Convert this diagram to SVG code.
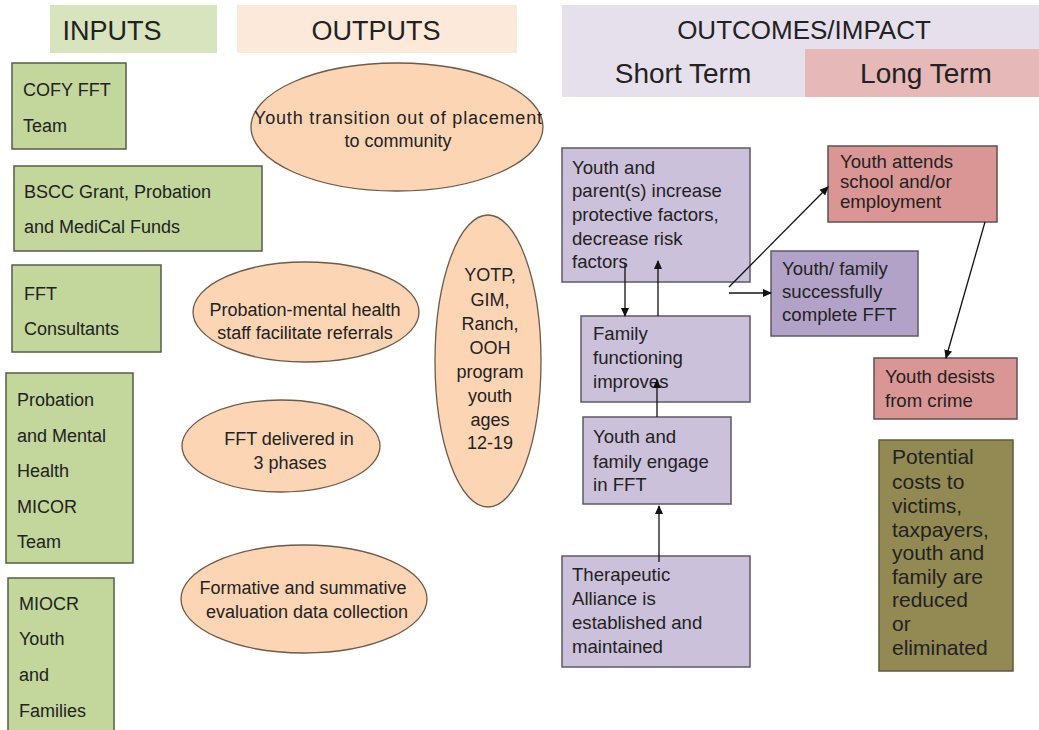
<svg xmlns="http://www.w3.org/2000/svg" width="1039" height="730" viewBox="0 0 1039 730">
<style>
text{font-family:"Liberation Sans",Arial,sans-serif;fill:#222;}
.hd{font-size:27px;}
.sub{font-size:28px;}
.t{font-size:18px;}
.b{font-size:18.6px;}
.c{text-anchor:middle;}
.in{fill:#c3d69b;stroke:#555d48;stroke-width:1.5;}
.el{fill:#fcd5b5;stroke:#6e5a48;stroke-width:1.3;}
.pu{fill:#ccc1da;stroke:#5e5a66;stroke-width:1.5;}
.pu2{fill:#b3a2c7;stroke:#5e5a66;stroke-width:1.5;}
.rd{fill:#d99694;stroke:#5e5050;stroke-width:1.5;}
.ol{fill:#938953;stroke:#5f5a40;stroke-width:1.5;}
.cn{stroke:#111;stroke-width:1.3;fill:none;marker-end:url(#ah);}
</style>
<defs>
<marker id="ah" markerWidth="9" markerHeight="9" refX="8" refY="4.5" orient="auto" markerUnits="userSpaceOnUse">
<path d="M0,0.5 L9,4.5 L0,8.5 z" fill="#111"/>
</marker>
</defs>
<rect width="1039" height="730" fill="#fff"/>

<g id="hdr-inputs">
<rect x="50" y="5" width="167" height="48" fill="#d7e4bd"/>
<text class="hd c" x="112" y="40">INPUTS</text>
</g>
<g id="hdr-outputs">
<rect x="237" y="5" width="280" height="48" fill="#fde9d9"/>
<text class="hd c" x="376" y="40">OUTPUTS</text>
</g>
<g id="hdr-outcomes">
<rect x="562" y="5" width="477" height="92" fill="#e6e0ec"/>
<text class="c" style="font-size:26px" x="804" y="39">OUTCOMES/IMPACT</text>
<text class="sub c" x="683" y="83">Short Term</text>
</g>
<g id="hdr-longterm">
<rect x="805" y="49" width="234" height="48" fill="#e6b9b8"/>
<text class="sub c" x="926" y="83">Long Term</text>
</g>

<g id="in-cofy">
<rect class="in" x="12" y="63" width="114" height="86"/>
<text class="t" x="23" y="96">COFY FFT</text>
<text class="t" x="23" y="132">Team</text>
</g>
<g id="in-bscc">
<rect class="in" x="14" y="166" width="248" height="85"/>
<text class="t" x="24" y="198">BSCC Grant, Probation</text>
<text class="t" x="24" y="233">and MediCal Funds</text>
</g>
<g id="in-consultants">
<rect class="in" x="12" y="265" width="149" height="87"/>
<text class="t" x="24" y="300">FFT</text>
<text class="t" x="24" y="335">Consultants</text>
</g>
<g id="in-micor">
<rect class="in" x="6" y="373" width="127" height="190"/>
<text class="t" x="17" y="406">Probation</text>
<text class="t" x="17" y="442">and Mental</text>
<text class="t" x="17" y="477">Health</text>
<text class="t" x="17" y="513">MICOR</text>
<text class="t" x="17" y="548">Team</text>
</g>
<g id="in-families">
<rect class="in" x="8" y="578" width="106" height="160"/>
<text class="t" x="19" y="610">MIOCR</text>
<text class="t" x="19" y="645">Youth</text>
<text class="t" x="19" y="681">and</text>
<text class="t" x="19" y="717">Families</text>
</g>

<g id="out-transition">
<ellipse class="el" cx="397" cy="127" rx="146" ry="64"/>
<text class="t c" x="398" y="124" textLength="288" lengthAdjust="spacing">Youth transition out of placement</text>
<text class="t c" x="398" y="147">to community</text>
</g>
<g id="out-referrals">
<ellipse class="el" cx="306" cy="312" rx="113" ry="50"/>
<text class="t c" x="305" y="316">Probation-mental health</text>
<text class="t c" x="305" y="339">staff facilitate referrals</text>
</g>
<g id="out-phases">
<ellipse class="el" cx="281" cy="446" rx="99" ry="46"/>
<text class="t c" x="289" y="445">FFT delivered in</text>
<text class="t c" x="290" y="469">3 phases</text>
</g>
<g id="out-evaluation">
<ellipse class="el" cx="304" cy="599" rx="123" ry="54"/>
<text class="t c" x="303" y="594">Formative and summative</text>
<text class="t c" x="307" y="618">evaluation data collection</text>
</g>
<g id="out-yotp">
<ellipse class="el" cx="488" cy="361" rx="53" ry="146"/>
<text class="t c" x="490" y="281">YOTP,</text>
<text class="t c" x="490" y="306">GIM,</text>
<text class="t c" x="490" y="330">Ranch,</text>
<text class="t c" x="490" y="354">OOH</text>
<text class="t c" x="490" y="378">program</text>
<text class="t c" x="490" y="402">youth</text>
<text class="t c" x="490" y="426">ages</text>
<text class="t c" x="490" y="449">12-19</text>
</g>

<g id="st-protective">
<rect class="pu" x="562" y="148" width="188" height="134"/>
<text class="b" x="572" y="174">Youth  and</text>
<text class="b" x="572" y="197">parent(s) increase</text>
<text class="b" x="572" y="221">protective factors,</text>
<text class="b" x="572" y="245">decrease risk</text>
<text class="b" x="572" y="268">factors</text>
</g>
<g id="st-functioning">
<rect class="pu" x="581" y="316" width="169" height="86"/>
<text class="b" x="593" y="340">Family</text>
<text class="b" x="593" y="364">functioning</text>
<text class="b" x="593" y="388">improves</text>
</g>
<g id="st-engage">
<rect class="pu" x="583" y="417" width="148" height="87"/>
<text class="b" x="593" y="443">Youth  and</text>
<text class="b" x="593" y="468">family engage</text>
<text class="b" x="593" y="491">in FFT</text>
</g>
<g id="st-alliance">
<rect class="pu" x="562" y="556" width="188" height="111"/>
<text class="b" x="572" y="581">Therapeutic</text>
<text class="b" x="572" y="605">Alliance is</text>
<text class="b" x="572" y="629">established and</text>
<text class="b" x="572" y="653">maintained</text>
</g>
<g id="st-complete">
<rect class="pu2" x="771" y="251" width="147" height="85"/>
<text class="b" x="782" y="275">Youth/  family</text>
<text class="b" x="782" y="298">successfully</text>
<text class="b" x="782" y="321">complete FFT</text>
</g>
<g id="lt-school">
<rect class="rd" x="828" y="146" width="169" height="76"/>
<text class="b" x="840" y="168">Youth  attends</text>
<text class="b" x="840" y="188">school and/or</text>
<text class="b" x="840" y="208">employment</text>
</g>
<g id="lt-desists">
<rect class="rd" x="874" y="358" width="143" height="61"/>
<text class="b" x="885" y="383">Youth  desists</text>
<text class="b" x="885" y="407">from crime</text>
</g>
<g id="lt-costs">
<rect class="ol" x="879" y="440" width="134" height="231"/>
<g style="font-size:21px">
<text x="892" y="464">Potential</text>
<text x="892" y="489">costs to</text>
<text x="892" y="513">victims,</text>
<text x="892" y="537">taxpayers,</text>
<text x="892" y="560">youth and</text>
<text x="892" y="584">family are</text>
<text x="892" y="607">reduced</text>
<text x="892" y="631">or</text>
<text x="892" y="655">eliminated</text>
</g>
</g>

<g id="connectors">
<path class="cn" d="M625,263 L625,316"/>
<path class="cn" d="M658,316 L658,261"/>
<path class="cn" d="M729,287 L828,187"/>
<path class="cn" d="M729,293 L771,293"/>
<path class="cn" d="M985,222 L946,358"/>
<path class="cn" d="M657,417 L657,380"/>
<path class="cn" d="M659,562 L659,506"/>
</g>
</svg>
